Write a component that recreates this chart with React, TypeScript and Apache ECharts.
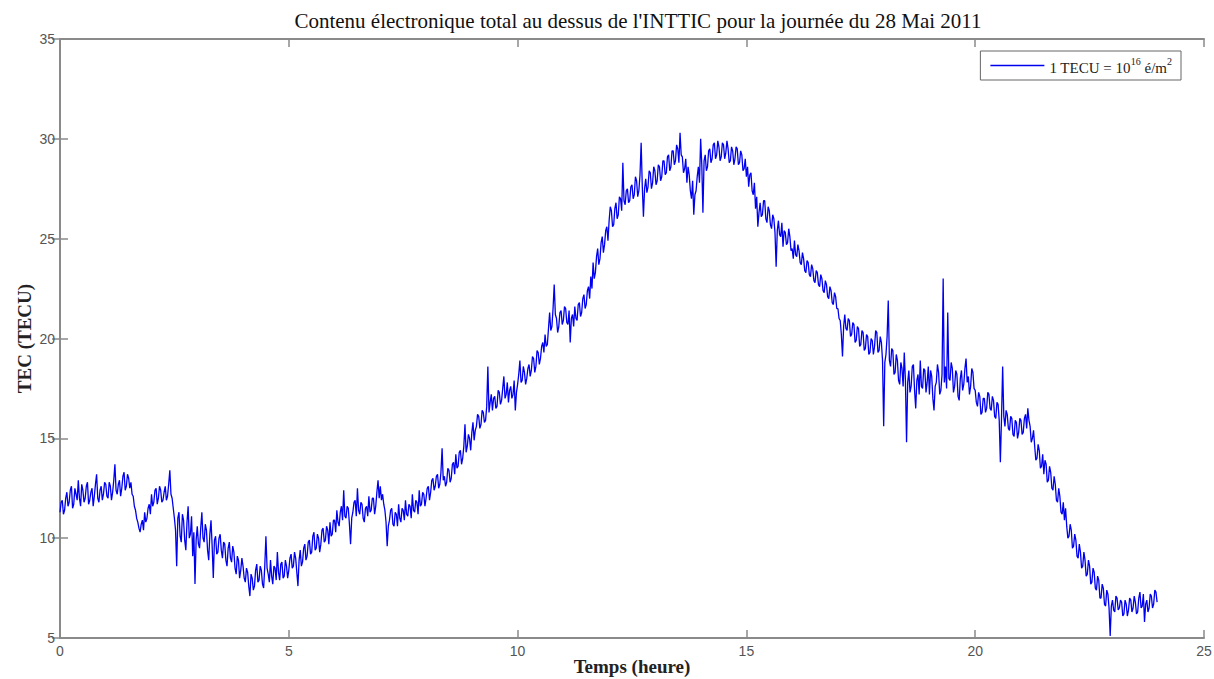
import React, { useEffect, useRef } from "react";
import * as echarts from "echarts";

// TEC samples, one every 0.025 h (40 per hour)
const SAMPLE_STEP_H = 0.025;

const tec00to06 = [
  11.3, 11.8, 11.9, 11.2, 11.4, 12.0, 12.3, 11.6, 11.8, 12.4, 12.6, 11.5, 11.7, 12.5, 12.2, 11.9, 12.9, 12.0, 11.6, 12.7, 12.4, 11.8, 12.0, 12.6, 12.8, 11.7, 11.9, 12.3, 12.5, 11.6, 12.1, 12.7, 13.2, 12.0, 11.8, 12.4, 12.6, 11.9, 12.2, 12.8,
  12.7, 12.1, 12.0, 12.8, 12.6, 11.9, 12.3, 12.9, 13.7, 12.4, 12.2, 12.7, 12.9, 12.1, 12.5, 13.1, 13.3, 12.4, 12.6, 13.2, 13.0, 12.5, 12.8, 12.2, 12.1, 11.6, 11.4, 11.0, 10.8, 10.5, 10.3, 10.7, 10.9, 10.4, 11.3, 10.8, 11.0, 11.5, 11.7, 11.2,
  12.2, 11.6, 11.8, 12.4, 12.5, 11.7, 12.0, 12.6, 12.4, 11.8, 11.9, 12.3, 12.6, 11.9, 12.1, 12.7, 13.4, 12.2, 12.0, 11.5, 11.0, 10.4, 8.6, 11.0, 11.3, 10.1, 9.8, 11.2, 10.9, 9.9, 9.4, 10.8, 11.6, 10.0, 10.2, 11.1, 9.1, 10.3, 7.7, 9.9,
  10.6, 9.7, 9.5, 10.5, 11.3, 10.0, 9.8, 10.7, 10.4, 9.4, 8.9, 10.2, 10.9, 9.6, 8.0, 9.9, 10.1, 9.2, 9.3, 10.0, 10.2, 9.4, 9.0, 9.8, 9.7, 8.9, 8.6, 9.5, 9.8, 9.0, 8.8, 9.6, 9.3, 8.5, 8.2, 9.1, 8.9, 8.0, 8.4, 9.0,
  8.6, 8.0, 7.8, 8.5, 8.3, 7.6, 7.1, 8.2, 8.0, 7.4, 7.6, 8.4, 8.7, 7.8, 7.9, 8.6, 8.4, 7.7, 7.5, 8.6, 10.1, 8.5, 8.2, 7.8, 8.9, 8.1, 7.7, 8.6, 8.5, 7.9, 9.3, 8.3, 7.9, 8.7, 8.8, 8.0, 8.1, 8.9, 8.6, 8.0,
  8.4, 9.0, 9.2, 8.5, 8.6, 9.3, 9.0, 8.3, 7.6, 8.9, 9.4, 8.6, 8.8, 9.5, 9.7, 8.9, 9.1, 9.8, 9.9, 9.2, 9.3, 10.1, 10.3, 9.4, 9.5, 10.2, 10.0, 9.3, 9.7, 10.4, 10.5, 9.8, 9.9, 10.6, 10.4, 9.7, 10.8, 10.1, 10.2, 10.9,
];

const tec06to12 = [
  10.9, 10.3, 11.4, 10.8, 10.6, 11.3, 11.6, 10.9, 12.4, 11.1, 11.0, 11.6, 11.5, 10.7, 9.7, 11.0, 11.3, 11.8, 11.9, 11.1, 12.5, 11.4, 11.2, 11.8, 11.7, 11.0, 10.8, 11.5, 11.6, 11.1, 12.1, 11.3, 11.4, 12.0, 12.0, 11.2, 11.6, 12.3, 12.9, 12.0,
  12.6, 11.9, 12.2, 11.7, 11.4, 10.8, 9.6, 10.6, 10.9, 11.4, 11.5, 10.7, 10.6, 11.3, 11.2, 10.6, 11.7, 11.0, 10.8, 11.5, 11.4, 10.9, 11.9, 11.2, 11.1, 11.7, 11.6, 11.0, 12.2, 11.4, 11.3, 11.9, 11.8, 11.2, 12.4, 11.6, 11.7, 12.3, 12.2, 11.6,
  12.0, 12.5, 12.6, 11.9, 12.3, 12.9, 13.0, 12.4, 12.6, 13.1, 13.2, 12.5, 12.7, 13.3, 14.5, 12.9, 13.1, 12.6, 12.8, 13.5, 13.4, 12.8, 13.0, 13.7, 13.8, 13.2, 14.2, 13.5, 13.6, 14.3, 14.4, 13.7, 14.0, 14.6, 15.7, 14.3, 14.6, 15.2, 15.0, 14.4,
  15.3, 15.8, 14.9, 15.4, 15.6, 16.2, 16.1, 15.5, 15.7, 16.4, 16.3, 15.8, 15.9, 16.6, 18.6, 16.3, 16.8, 17.2, 16.4, 17.0, 17.1, 16.5, 16.6, 17.4, 17.3, 16.7, 16.9, 17.5, 18.1, 17.0, 17.2, 17.8, 16.8, 17.4, 17.6, 17.0, 17.2, 17.9, 16.4, 17.3,
  17.7, 18.2, 18.9, 17.8, 17.9, 18.6, 18.3, 17.7, 18.0, 18.5, 18.7, 18.1, 18.4, 19.1, 19.0, 18.3, 18.6, 19.4, 19.3, 18.7, 19.0, 19.6, 19.8, 19.3, 20.2, 19.6, 19.7, 20.5, 21.3, 20.4, 20.6, 21.5, 22.7, 21.2, 21.0, 20.3, 20.6, 21.3, 21.4, 20.7,
  20.9, 21.6, 21.5, 20.8, 20.7, 21.4, 19.8, 21.0, 21.2, 20.6, 21.6, 21.0, 20.9, 21.7, 21.8, 21.1, 21.3, 22.0, 22.2, 21.5, 21.7, 22.4, 22.6, 22.0, 23.1, 22.5, 23.8, 23.0, 23.3, 24.1, 24.5, 23.7, 24.0, 24.8, 25.1, 24.3, 24.7, 25.4, 25.6, 24.9,
];

const tec12to18 = [
  25.9, 26.6, 26.4, 25.6, 25.7, 26.5, 26.8, 26.0, 26.2, 27.1, 27.0, 26.4, 28.8, 26.9, 26.7, 27.4, 27.5, 26.8, 26.9, 27.6, 27.7, 27.0, 27.2, 28.1, 27.9, 27.1, 27.4, 28.2, 29.8, 27.6, 26.1, 27.5, 28.0, 27.3, 27.6, 28.4, 28.3, 27.5, 27.8, 28.6,
  28.4, 27.7, 27.9, 28.7, 28.6, 27.9, 28.1, 28.9, 28.9, 28.2, 28.3, 29.1, 29.2, 28.4, 28.6, 29.4, 29.4, 28.7, 28.9, 29.7, 29.5, 28.8, 30.3, 29.2, 29.1, 28.3, 28.5, 29.0, 27.8, 28.6, 28.2, 27.4, 27.0, 27.9, 26.2, 27.2, 27.4, 28.1, 28.6, 27.8,
  30.0, 28.7, 26.3, 28.9, 29.2, 28.4, 28.6, 29.4, 29.5, 28.8, 29.0, 29.7, 29.8, 29.0, 29.2, 29.9, 29.6, 28.9, 29.1, 29.8, 29.7, 29.0, 29.3, 29.9, 29.5, 28.8, 28.9, 29.6, 29.4, 28.7, 29.0, 29.6, 29.5, 28.7, 28.8, 29.4, 29.2, 28.4, 28.5, 29.0,
  28.1, 28.6, 27.6, 28.2, 28.3, 27.4, 27.2, 27.8, 26.5, 27.1, 25.6, 26.3, 26.8, 26.1, 26.2, 26.9, 26.9, 26.0, 25.8, 26.6, 26.4, 25.7, 25.5, 26.2, 26.0, 25.3, 23.6, 25.4, 25.9, 25.2, 25.1, 25.8, 24.6, 25.4, 25.3, 24.7, 24.8, 25.5, 25.1, 24.4,
  24.5, 24.0, 24.9, 24.2, 24.1, 24.7, 24.4, 23.8, 23.7, 24.3, 24.0, 23.4, 23.3, 23.9, 23.8, 23.2, 23.1, 23.7, 23.5, 22.9, 22.8, 23.4, 23.3, 22.7, 22.6, 23.2, 23.0, 22.4, 22.3, 22.9, 22.7, 22.1, 22.0, 22.6, 22.4, 21.8, 21.7, 22.3, 22.1, 21.5,
  21.5, 21.0, 20.9, 20.2, 19.1, 20.6, 21.2, 20.5, 20.4, 21.0, 20.9, 20.1, 20.2, 20.8, 20.7, 19.8, 19.9, 20.6, 20.5, 19.6, 19.7, 20.4, 20.3, 19.4, 19.5, 20.2, 20.1, 19.2, 19.3, 20.0, 19.9, 19.2, 19.6, 20.4, 20.3, 19.3, 19.4, 20.1, 19.8, 18.9,
];

const tec18to24 = [
  15.6, 18.8, 19.2, 20.1, 21.9, 18.9, 18.6, 19.5, 19.4, 18.2, 18.3, 19.2, 18.9, 17.9, 17.7, 18.8, 18.5, 17.6, 19.3, 17.9, 14.8, 17.8, 18.4, 17.3, 17.6, 18.6, 18.7, 17.4, 16.5, 17.9, 18.2, 17.2, 18.9, 17.6, 17.5, 18.5, 18.4, 17.3, 17.8, 18.6,
  17.2, 18.4, 18.1, 17.0, 16.4, 17.6, 17.8, 18.7, 18.3, 17.2, 17.4, 18.2, 23.0, 17.8, 18.6, 17.5, 21.3, 18.0, 17.9, 18.8, 18.5, 17.3, 17.6, 18.4, 18.2, 17.1, 16.9, 18.0, 18.4, 17.4, 17.7, 18.5, 19.0, 17.8, 18.1, 17.2, 17.6, 18.5, 18.3, 17.5,
  17.4, 16.8, 16.6, 17.3, 17.1, 16.2, 16.3, 17.0, 17.0, 16.3, 16.5, 17.3, 17.2, 16.5, 16.4, 17.1, 16.9, 16.1, 16.0, 16.8, 16.7, 15.9, 13.8, 16.0, 18.6, 16.1, 15.6, 16.4, 16.2, 15.5, 15.4, 16.1, 16.0, 15.2, 15.1, 15.9, 15.8, 15.0, 15.3, 16.0,
  15.9, 15.2, 15.3, 16.0, 16.2, 15.5, 16.5, 15.9, 15.6, 14.8, 15.0, 15.4, 14.6, 13.9, 14.0, 14.7, 14.4, 13.5, 13.6, 14.2, 13.2, 13.9, 13.7, 12.8, 12.9, 13.6, 13.3, 12.5, 12.4, 13.1, 12.7, 11.9, 11.8, 12.5, 12.1, 11.3, 11.2, 11.8, 10.9, 11.5,
  10.6, 10.0, 10.1, 10.7, 10.4, 9.5, 9.6, 10.2, 9.9, 9.1, 9.0, 9.7, 9.3, 8.5, 8.6, 9.3, 8.9, 8.1, 8.2, 8.9, 8.6, 7.7, 7.8, 8.5, 8.3, 7.5, 7.4, 8.1, 7.9, 7.0, 7.0, 7.7, 7.5, 6.7, 6.6, 7.4, 7.2, 6.5, 5.1, 6.6,
  6.9, 6.4, 6.3, 7.1, 7.0, 6.4, 6.5, 6.9, 6.8, 6.1, 6.2, 6.9, 6.7, 6.1, 6.4, 7.0, 6.9, 6.3, 6.5, 7.1, 6.8, 6.2, 6.3, 7.0, 7.3, 6.5, 6.6, 7.2, 5.8, 6.7, 6.9, 6.3, 6.5, 7.2, 7.1, 6.5, 6.7, 7.4, 7.3, 6.8,
];

const X_MIN = 0;
const X_MAX = 25;
const X_INTERVAL = 5;
const Y_MIN = 5;
const Y_MAX = 35;
const Y_INTERVAL = 5;

const TITLE = "Contenu électronique total au dessus de l'INTTIC pour la journée du 28 Mai 2011";
const SERIES_NAME = "TEC";
const X_NAME = "Temps (heure)";
const Y_NAME = "TEC (TECU)";

const SERIF = "Liberation Serif, Times New Roman, serif";

export default function App() {
  const ref = useRef<HTMLDivElement>(null);

  useEffect(() => {
    if (!ref.current) return;
    const chart = echarts.init(ref.current, null, { renderer: "svg" });
    const values = [...tec00to06, ...tec06to12, ...tec12to18, ...tec18to24];
    const data = values.map((v, i) => [Math.round(i * SAMPLE_STEP_H * 1000) / 1000, v]);

    const axisLine = { show: true, lineStyle: { color: "#8a8a8a", width: 2 } };
    const axisTick = { show: true, inside: true, length: 8, lineStyle: { color: "#8a8a8a", width: 1.5 } };
    const tickFont = { fontFamily: "Liberation Sans, Arial, sans-serif", fontSize: 14, color: "#555" };
    const nameFont = { fontFamily: SERIF, fontSize: 19, fontWeight: "bold" as const, color: "#222" };

    chart.setOption({
      animation: false,
      backgroundColor: "#fff",
      title: {
        text: TITLE,
        left: 633,
        top: 5,
        textAlign: "center",
        textStyle: { fontFamily: SERIF, fontSize: 21, fontWeight: "normal", color: "#111" },
      },
      grid: { left: 60, right: 10, top: 39, bottom: 41, containLabel: false, outerBoundsMode: "none" },
      legend: {
        right: 33,
        top: 51,
        orient: "horizontal",
        icon: "rect",
        itemWidth: 54,
        itemHeight: 1.5,
        itemGap: 8,
        padding: [5, 9, 5, 10],
        borderColor: "#666",
        borderWidth: 1,
        backgroundColor: "#fff",
        data: [SERIES_NAME],
        formatter: () => "{n|1 TECU = 10}{s|16}{n| é/m}{s|2}",
        textStyle: {
          fontFamily: SERIF,
          color: "#222",
          rich: {
            n: { fontFamily: SERIF, fontSize: 15, color: "#222", lineHeight: 19, verticalAlign: "bottom" },
            s: { fontFamily: SERIF, fontSize: 10, color: "#222", lineHeight: 19, verticalAlign: "top" },
          },
        },
      },
      xAxis: [
        {
          type: "value",
          position: "bottom",
          min: X_MIN,
          max: X_MAX,
          interval: X_INTERVAL,
          name: X_NAME,
          nameLocation: "middle",
          nameGap: 19,
          nameMoveOverlap: false,
          nameTextStyle: nameFont,
          axisLine,
          axisTick,
          axisLabel: { ...tickFont, margin: 6 },
          splitLine: { show: false },
        },
        {
          type: "value",
          position: "top",
          min: X_MIN,
          max: X_MAX,
          interval: X_INTERVAL,
          axisLine,
          axisTick,
          axisLabel: { show: false },
          splitLine: { show: false },
        },
      ],
      yAxis: [
        {
          type: "value",
          position: "left",
          min: Y_MIN,
          max: Y_MAX,
          interval: Y_INTERVAL,
          name: Y_NAME,
          nameLocation: "middle",
          nameGap: 26,
          nameMoveOverlap: false,
          nameTextStyle: nameFont,
          axisLine,
          axisTick,
          axisLabel: { ...tickFont, margin: 5 },
          splitLine: { show: false },
        },
        {
          type: "value",
          position: "right",
          min: Y_MIN,
          max: Y_MAX,
          interval: Y_INTERVAL,
          axisLine,
          axisTick,
          axisLabel: { show: false },
          splitLine: { show: false },
        },
      ],
      series: [
        {
          name: SERIES_NAME,
          type: "line",
          data,
          symbol: "none",
          showSymbol: false,
          lineStyle: { color: "#0000f0", width: 1.3 },
          itemStyle: { color: "#0000f0" },
          emphasis: { disabled: true },
          xAxisIndex: 0,
          yAxisIndex: 0,
        },
      ],
    });

    return () => chart.dispose();
  }, []);

  return <div ref={ref} style={{ position: "fixed", left: 0, top: 0, width: 1214, height: 679 }} />;
}
